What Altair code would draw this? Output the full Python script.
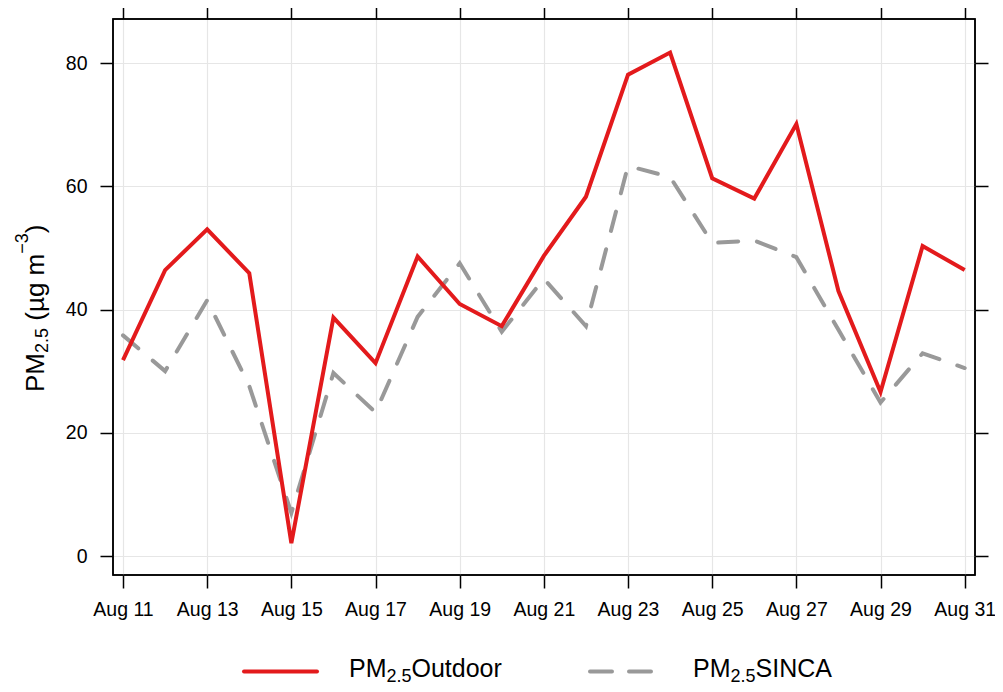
import altair as alt
import pandas as pd

# ---- data ----
days = list(range(11, 32))
outdoor = [31.8, 46.4, 53.0, 45.9, 2.1, 38.7, 31.3, 48.6, 40.9, 37.3, 48.7, 58.3,
           78.1, 81.7, 61.3, 58.0, 70.1, 43.0, 26.6, 50.3, 46.4]
sinca = [35.8, 30.0, 41.5, 27.6, 7.0, 29.7, 23.3, 38.8, 47.5, 36.4, 45.0, 37.3,
         63.3, 61.5, 50.8, 51.2, 48.5, 36.7, 24.9, 32.9, 30.5]
x_ticks = [11, 13, 15, 17, 19, 21, 23, 25, 27, 29, 31]
y_ticks = [0, 20, 40, 60, 80]
title_pieces = ["PM", "2.5", "(µg m", "\u22123", ")"]
legend_labels = ["Outdoor", "SINCA"]
sub_label = "2.5"

RED = "#E31A1C"
GRAY = "#999999"
FONT = "Liberation Sans"

df = pd.DataFrame({"day": days, "outdoor": outdoor, "sinca": sinca})
one = pd.DataFrame({"k": [0]})

W, H = 862, 556
xscale = alt.Scale(domain=[10.762, 31.245], nice=False, zero=False)
yscale = alt.Scale(domain=[-3.08, 87.14], nice=False, zero=False)

common_axis = dict(domain=False, tickColor="black", tickWidth=1.5, tickSize=13,
                   labelFont=FONT, labelFontSize=19.5, labelColor="black",
                   labelOverlap=False, labelFlush=False, title=None, zindex=0)

x_bottom = alt.X("day:Q", scale=xscale, axis=alt.Axis(
    orient="bottom", values=x_ticks, labelExpr="'Aug ' + datum.value",
    grid=True, gridColor="#e6e6e6", gridWidth=1.2, labelPadding=12, **common_axis))
y_left = alt.Y("outdoor:Q", scale=yscale, axis=alt.Axis(
    orient="left", values=y_ticks, grid=True, gridColor="#e6e6e6", gridWidth=1.2,
    labelPadding=13, **common_axis))
x_top = alt.X("day:Q", scale=xscale, axis=alt.Axis(
    orient="top", values=x_ticks, labels=False, grid=False, **common_axis))
y_right = alt.Y("outdoor:Q", scale=yscale, axis=alt.Axis(
    orient="right", values=y_ticks, labels=False, grid=False, **common_axis))

base = alt.Chart(df)

gray_line = base.mark_line(color=GRAY, strokeWidth=4, strokeDash=[20, 19],
                           strokeCap="round", strokeJoin="miter").encode(
    x=alt.X("day:Q", scale=xscale, axis=None),
    y=alt.Y("sinca:Q", scale=yscale, axis=None))
red_line = base.mark_line(color=RED, strokeWidth=4, strokeJoin="miter").encode(
    x=x_bottom, y=y_left)
frame_axes = base.mark_line(opacity=0).encode(x=x_top, y=y_right)

frame_rect = alt.Chart(one).mark_rect(fill=None, stroke="black", strokeWidth=1.5, filled=False).encode(
    x=alt.value(0), x2=alt.value(W), y=alt.value(0), y2=alt.value(H))

# ---- text helpers (layout only) ----
def txt(s, x, y, size, angle=0):
    return alt.Chart(one).mark_text(
        text=s, align="left", baseline="alphabetic", fontSize=size, font=FONT,
        angle=angle, color="black").encode(x=alt.value(x), y=alt.value(y))

# y-axis title (rotated, reading upwards)
TF, TS = 26, 18
ty0 = 373.0
tx_main, tx_sub, tx_sup = -69.5, -65.0, -85.0
y1 = ty0
y2 = y1 - 1.5 * TF
y3 = y2 - 1.39 * TS - 0.278 * TF
y4 = y3 - (0.333 + 0.576 + 0.556 + 0.278 + 0.833) * TF
y5 = y4 - 1.14 * TS
title_layers = [
    txt(title_pieces[0], tx_main, y1, TF, 270),
    txt(title_pieces[1], tx_sub, y2, TS, 270),
    txt(title_pieces[2], tx_main, y3, TF, 270),
    txt(title_pieces[3], tx_sup, y4, TS, 270),
    txt(title_pieces[4], tx_main, y5, TF, 270),
]

# legend
F, S = 25, 18
w_PM = 1.5 * F
w_sub = 1.39 * S
ly = 652.4
lb = 658.0
lsub = 663.0
legend_layers = []
legend_layers.append(alt.Chart(one).mark_rule(color=RED, strokeWidth=4, strokeCap="round").encode(
    x=alt.value(131), x2=alt.value(204), y=alt.value(ly)))
for a, b in [(477, 499), (516, 538)]:
    legend_layers.append(alt.Chart(one).mark_rule(color=GRAY, strokeWidth=4, strokeCap="round").encode(
        x=alt.value(a), x2=alt.value(b), y=alt.value(ly)))
for x0, lab in [(236, legend_labels[0]), (580, legend_labels[1])]:
    legend_layers.append(txt("PM", x0, lb, F))
    legend_layers.append(txt(sub_label, x0 + w_PM, lsub, S))
    legend_layers.append(txt(lab, x0 + w_PM + w_sub, lb, F))

chart = alt.layer(gray_line, red_line, frame_axes, frame_rect, *title_layers, *legend_layers).resolve_axis(
    x="independent", y="independent"
).properties(
    width=W, height=H,
    padding={"left": 105, "top": 11, "right": 20, "bottom": 110},
    autosize=alt.AutoSizeParams(type="none"),
    background="white",
).configure_view(stroke="black", strokeWidth=1.5)

chart.save("out.html", embed_options={"renderer": "svg", "actions": False})
